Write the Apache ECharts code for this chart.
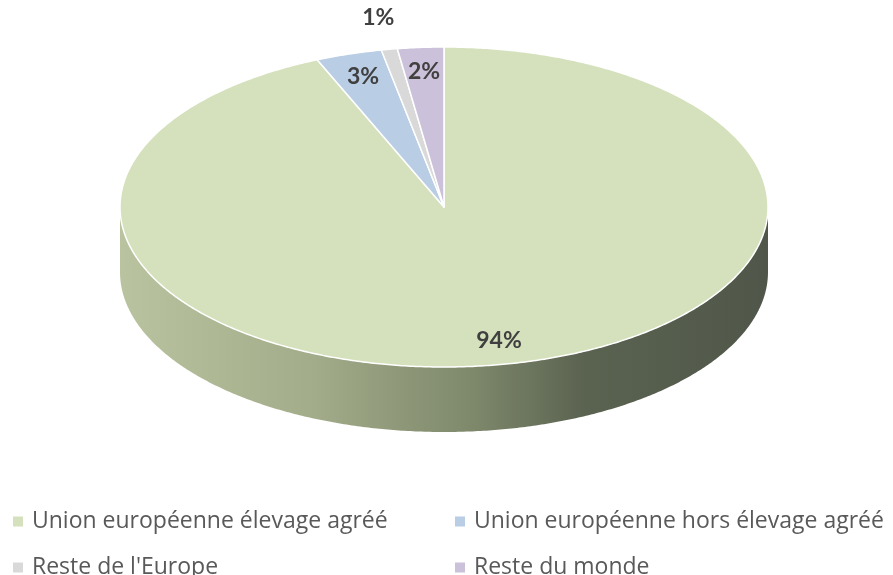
<!DOCTYPE html>
<html><head><meta charset="utf-8">
<script src="https://cdn.jsdelivr.net/npm/echarts@6/dist/echarts.min.js"></script>
<style>html,body{margin:0;padding:0;background:#fff}#c{width:893px;height:575px}</style>
</head><body><div id="c"></div>
<script>
const categories = ["Union européenne élevage agréé", "Union européenne hors élevage agréé", "Reste de l'Europe", "Reste du monde"];
const values = [93.6, 3.3, 0.8, 2.3];
const labels = ["94%", "3%", "1%", "2%"];
const colors = ['#d5e1bc', '#b9cde4', '#d9d9d9', '#ccc1da'];

const CX = 444, CY = 207, RX = 324, RY = 160, DEPTH = 65;
const total = values.reduce((a, b) => a + b, 0);

function pt(deg, k, dy) {
  const r = deg * Math.PI / 180;
  return [CX + k * RX * Math.sin(r), CY - k * RY * Math.cos(r) + (dy || 0)];
}
function arc(a, b, dy) {
  const pts = [];
  const n = Math.max(2, Math.ceil(Math.abs(b - a) / 0.5));
  for (let i = 0; i <= n; i++) pts.push(pt(a + (b - a) * i / n, 1, dy));
  return pts;
}
const sideStops = [
  {offset: 0, color: '#b9c39f'},
  {offset: 0.3, color: '#a2ac8a'},
  {offset: 0.55, color: '#7d876a'},
  {offset: 0.72, color: '#5a6250'},
  {offset: 1, color: '#50574a'}
];

function makeRender(idx) {
  return function (params, api) {
    const v = api.value(0);
    let start = 0;
    for (let i = 0; i < idx; i++) start += values[i];
    const a = start / total * 360, b = (start + v) / total * 360;
    const children = [];
    const sa = Math.max(a, 90), sb = Math.min(b, 270);
    if (sb > sa) {
      const top = arc(sa, sb, 0);
      const bot = arc(sa, sb, DEPTH).reverse();
      children.push({
        type: 'polygon',
        shape: {points: top.concat(bot)},
        style: {fill: new echarts.graphic.LinearGradient(0, 0, 1, 0, sideStops), stroke: null}
      });
    }
    const face = [[CX, CY]].concat(arc(a, b, 0));
    children.push({
      type: 'polygon',
      shape: {points: face},
      style: {fill: colors[idx], stroke: '#ffffff', lineWidth: 1.5, lineJoin: 'round'}
    });
    const mid = (a + b) / 2;
    const share = v / total * 100;
    const lp = pt(mid, share < 1.5 ? 1.2 : 0.85, 0);
    children.push({
      type: 'text',
      x: lp[0], y: lp[1],
      style: {text: labels[idx], fill: '#404040', font: 'bold 23px Lato, "Open Sans", sans-serif', align: 'center', verticalAlign: 'middle'},
      z2: 10
    });
    return {type: 'group', children: children};
  };
}

const series = categories.map((name, i) => ({
  type: 'custom',
  name: name,
  coordinateSystem: 'none',
  itemStyle: {color: colors[i]},
  data: [values[i]],
  renderItem: makeRender(i),
  silent: true,
  animation: false
}));

const legendPos = [[8, 505], [450, 505], [8, 551], [450, 551]];
const legends = categories.map((name, i) => ({
  orient: 'horizontal',
  left: legendPos[i][0],
  top: legendPos[i][1],
  icon: 'rect',
  itemWidth: 10,
  itemHeight: 10,
  textStyle: {fontFamily: '"Open Sans", sans-serif', fontSize: 23, color: '#595959', padding: [0, 0, 0, 4]},
  selectedMode: false,
  data: [name]
}));

const chart = echarts.init(document.getElementById('c'), null, {renderer: 'canvas'});
chart.setOption({
  backgroundColor: '#ffffff',
  animation: false,
  legend: legends,
  series: series
});
</script></body></html>
